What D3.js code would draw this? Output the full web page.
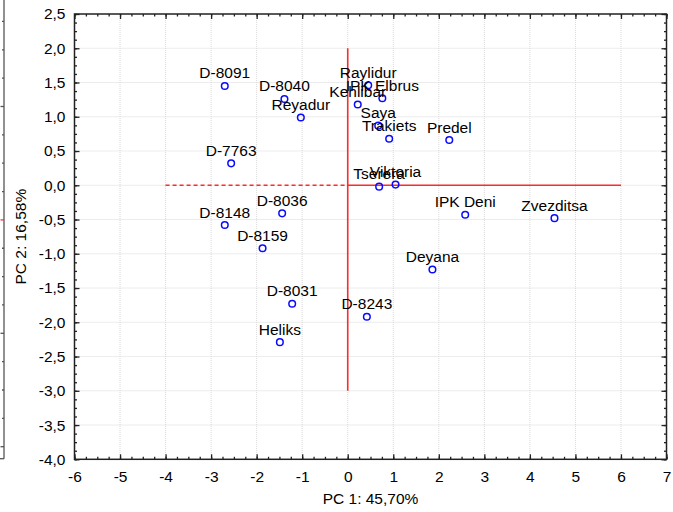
<!DOCTYPE html>
<html>
<head>
<meta charset="utf-8">
<script src="https://cdn.jsdelivr.net/npm/d3@7"></script>
<style>
  html, body { margin: 0; padding: 0; background: #fff; }
  svg { display: block; font-family: "Liberation Sans", Arial, sans-serif; }
</style>
</head>
<body>
<svg id="chart" width="673" height="512"></svg>
<script>
// ---- data ----
const genotypes = ["D-8091","D-8040","Reyadur","Raylidur","IPK Elbrus","Kehlibar","Saya","Trakiets","Predel","D-7763","Tserera","Viktoria","IPK Deni","Zvezditsa","D-8036","D-8148","D-8159","Deyana","D-8031","D-8243","Heliks"];
const pc1 = [-2.70,-1.39,-1.03,0.45,0.76,0.22,0.67,0.91,2.23,-2.56,0.69,1.05,2.58,4.54,-1.44,-2.70,-1.87,1.86,-1.22,0.42,-1.49];
const pc2 = [1.45,1.26,0.99,1.46,1.27,1.18,0.87,0.68,0.66,0.32,-0.02,0.01,-0.43,-0.48,-0.41,-0.58,-0.92,-1.23,-1.73,-1.92,-2.29];
const xTicks = [-6,-5,-4,-3,-2,-1,0,1,2,3,4,5,6,7];
const yTicks = [2.5,2.0,1.5,1.0,0.5,0.0,-0.5,-1.0,-1.5,-2.0,-2.5,-3.0,-3.5,-4.0];
const xTitle = "PC 1: 45,70%";
const yTitle = "PC 2: 16,58%";
const hLine = {x0: -4, x1: 6, y: 0};
const vLine = {x: 0, y0: 2.0, y1: -3.0};

// ---- layout ----
const L = 74.5, T = 14, R = 666.5, B = 459.3;
const FS = 15.5;
const svg = d3.select("#chart");
const x = d3.scaleLinear().domain([-6, 7]).range([L, R]);
const y = d3.scaleLinear().domain([-4, 2.5]).range([B, T]);

// left-edge artifact (edge of a neighbouring panel)
const art = svg.append("g").attr("stroke", "#555").attr("stroke-width", 1.3);
art.append("line").attr("x1", 4).attr("x2", 4).attr("y1", 0).attr("y2", 458.7);
art.append("line").attr("x1", 0).attr("x2", 4).attr("y1", 458.7).attr("y2", 458.7);
for (let i = 0; i < 17; i++) {
  const yy = 446.7 - i * 28.35;
  if (yy < 0) break;
  art.append("line").attr("x1", i % 4 === 0 ? 0.5 : 2).attr("x2", 4).attr("y1", yy).attr("y2", yy)
     .attr("stroke", Math.abs(yy - 220) < 3 ? "#f33" : "#555");
}

// gridlines
const grid = svg.append("g").attr("stroke", "#d9d9d9").attr("stroke-width", 1).attr("stroke-dasharray", "1,1");
grid.selectAll("line.gx").data(xTicks.slice(1, -1)).join("line")
  .attr("x1", d => x(d)).attr("x2", d => x(d)).attr("y1", T).attr("y2", B);
grid.selectAll("line.gy").data(yTicks.slice(1, -1)).join("line")
  .attr("x1", L).attr("x2", R).attr("y1", d => y(d)).attr("y2", d => y(d));

// red reference lines
const red = svg.append("g").attr("stroke", "#ff2a2a").attr("stroke-width", 1.6);
red.append("line").attr("x1", x(hLine.x0)).attr("x2", x(0)).attr("y1", y(hLine.y)).attr("y2", y(hLine.y))
   .attr("stroke-dasharray", "4,3");
red.append("line").attr("x1", x(0)).attr("x2", x(hLine.x1)).attr("y1", y(hLine.y)).attr("y2", y(hLine.y));
red.append("line").attr("x1", x(vLine.x)).attr("x2", x(vLine.x)).attr("y1", y(vLine.y0)).attr("y2", y(vLine.y1));

// points
const data = genotypes.map((g, i) => ({name: g, a: pc1[i], b: pc2[i]}));
svg.append("g").selectAll("circle").data(data).join("circle")
  .attr("cx", d => x(d.a)).attr("cy", d => y(d.b)).attr("r", 3.3)
  .attr("fill", "none").attr("stroke", "#0a0aff").attr("stroke-width", 1.5);

// labels
svg.append("g").selectAll("text").data(data).join("text")
  .attr("x", d => x(d.a)).attr("y", d => y(d.b) - 7.5)
  .attr("text-anchor", "middle").attr("font-size", FS).attr("fill", "#000")
  .text(d => d.name);

// axes (major ticks inward with labels)
const fx = d => String(d);
const fy = d => d.toFixed(1).replace(".", ",");
function styleAxis(g) {
  g.select(".domain").remove();
  g.selectAll(".tick line").attr("stroke", "#222").attr("stroke-width", 1.3);
  g.selectAll(".tick text").attr("font-size", FS).attr("fill", "#000")
   .attr("font-family", "'Liberation Sans', Arial, sans-serif");
}
const minorX = d3.range(-6, 7.001, 0.25);
const minorY = d3.range(-4, 2.5001, 0.125);

svg.append("g").attr("transform", `translate(0,${B})`)
  .call(d3.axisBottom(x).tickValues(xTicks).tickFormat(fx).tickSize(-5).tickPadding(12)).call(styleAxis);
svg.append("g").attr("transform", `translate(0,${B})`)
  .call(d3.axisBottom(x).tickValues(minorX).tickFormat("").tickSize(-2.5)).call(styleAxis);
svg.append("g").attr("transform", `translate(0,${T})`)
  .call(d3.axisTop(x).tickValues(xTicks).tickFormat("").tickSize(-5)).call(styleAxis);
svg.append("g").attr("transform", `translate(0,${T})`)
  .call(d3.axisTop(x).tickValues(minorX).tickFormat("").tickSize(-2.5)).call(styleAxis);

svg.append("g").attr("transform", `translate(${L},0)`)
  .call(d3.axisLeft(y).tickValues(yTicks).tickFormat(fy).tickSize(-5).tickPadding(9)).call(styleAxis);
svg.append("g").attr("transform", `translate(${L},0)`)
  .call(d3.axisLeft(y).tickValues(minorY).tickFormat("").tickSize(-2.5)).call(styleAxis);
svg.append("g").attr("transform", `translate(${R},0)`)
  .call(d3.axisRight(y).tickValues(yTicks).tickFormat("").tickSize(-5)).call(styleAxis);
svg.append("g").attr("transform", `translate(${R},0)`)
  .call(d3.axisRight(y).tickValues(minorY).tickFormat("").tickSize(-2.5)).call(styleAxis);

// frame
svg.append("rect").attr("x", L).attr("y", T).attr("width", R - L).attr("height", B - T)
  .attr("fill", "none").attr("stroke", "#222").attr("stroke-width", 1.5);

// axis titles
svg.append("text").attr("x", (L + R) / 2).attr("y", 504).attr("text-anchor", "middle")
  .attr("font-size", FS).attr("fill", "#000").text(xTitle);
svg.append("text").attr("transform", `translate(26,${(T + B) / 2}) rotate(-90)`).attr("text-anchor", "middle")
  .attr("font-size", FS).attr("fill", "#000").text(yTitle);
</script>
</body>
</html>
